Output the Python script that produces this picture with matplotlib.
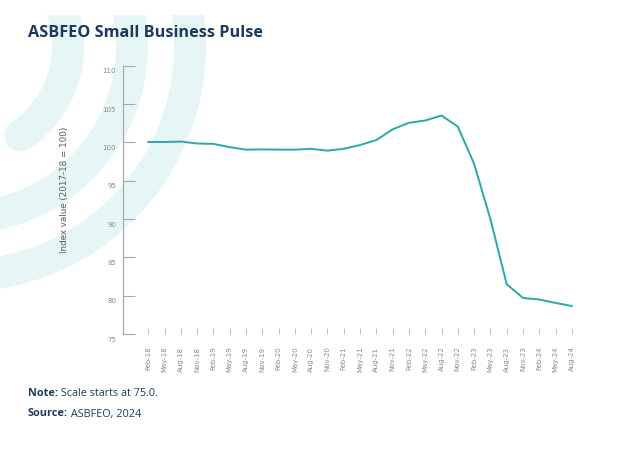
import numpy as np
import matplotlib
matplotlib.use("Agg")
import matplotlib.pyplot as plt
from matplotlib.patches import Rectangle
from matplotlib.transforms import ScaledTranslation

# ---------------- data ----------------
quarters = ["Feb-18", "May-18", "Aug-18", "Nov-18",
            "Feb-19", "May-19", "Aug-19", "Nov-19",
            "Feb-20", "May-20", "Aug-20", "Nov-20",
            "Feb-21", "May-21", "Aug-21", "Nov-21",
            "Feb-22", "May-22", "Aug-22", "Nov-22",
            "Feb-23", "May-23", "Aug-23", "Nov-23",
            "Feb-24", "May-24", "Aug-24"]
pulse = [100.05, 100.05, 100.1, 99.85, 99.8, 99.37, 99.05, 99.08, 99.05, 99.05,
         99.15, 98.92, 99.16, 99.65, 100.3, 101.7, 102.55, 102.85, 103.5, 102.05,
         97.2, 90.0, 81.5, 79.7, 79.5, 79.05, 78.65]
y_ticks = [75, 80, 85, 90, 95, 100, 105, 110]

NAVY = "#1c3a5e"
TEAL = "#27a9ab"
BAND = "#e6f5f6"

W, H = 630, 450
fig = plt.figure(figsize=(W / 100, H / 100), dpi=100)

# ---------------- decorative background arcs (pixel coords) ----------------
bg = fig.add_axes([0, 0, 1, 1])
bg.set_xlim(0, W)
bg.set_ylim(H, 0)
bg.axis("off")
clip = Rectangle((0, 15), W, H, transform=bg.transData, visible=False)
bg.add_patch(clip)
cx, cy = -40, 46
lw_pt = 32 * 72 / 100
for r, t_end in [(108, -56), (172, -100), (230, -100)]:
    th = np.radians(np.linspace(40, t_end, 300))
    xs = cx + r * np.cos(th)
    ys = cy - r * np.sin(th)
    ln, = bg.plot(xs, ys, color=BAND, lw=lw_pt, solid_capstyle="round")
    ln.set_clip_path(clip)

# ---------------- main axes ----------------
left_px, right_px = 123, 580
top_px, bot_px = 65.7, 334
ax = fig.add_axes([left_px / W, 1 - bot_px / H,
                   (right_px - left_px) / W, (bot_px - top_px) / H])
ax.patch.set_alpha(0)
x = np.arange(len(quarters))
ax.plot(x, pulse, color=TEAL, lw=1.4, solid_joinstyle="round")

ax.set_xlim(-1.55, len(quarters) - 0.5)
ax.set_ylim(75, 110)
ax.set_yticks(y_ticks)
ax.set_yticklabels([str(v) for v in y_ticks])
ax.set_xticks(x)
ax.set_xticklabels(quarters, rotation=90)

for s in ["top", "right", "bottom"]:
    ax.spines[s].set_visible(False)
ax.spines["left"].set_color("#a8a8a8")
ax.spines["left"].set_linewidth(0.9)

ax.tick_params(axis="y", direction="in", length=8.5, width=0.8, color="#a8a8a8",
               labelsize=5, labelcolor="#8a8a8a", pad=5)
ax.tick_params(axis="x", direction="in", length=4.5, width=0.6, color="#b0b0b0",
               labelsize=5, labelcolor="#8a8a8a", pad=9)
off = ScaledTranslation(0, -0.05, fig.dpi_scale_trans)
for lab in ax.get_yticklabels():
    lab.set_transform(lab.get_transform() + off)

fig.text(65 / W, 1 - 190 / H, "Index value (2017-18 = 100)", rotation=90,
         ha="center", va="center", fontsize=6.3, color="#5a5a5a")

# ---------------- titles / notes ----------------
fig.text(28 / W, 1 - 33 / H, "ASBFEO Small Business Pulse", ha="left",
         va="center", fontsize=11.7, fontweight="bold", color=NAVY,
         family="Open Sans")

fig.canvas.draw()
r = fig.canvas.get_renderer()
for ypx, bold, rest in [(393, "Note:", " Scale starts at 75.0."),
                        (414, "Source:", " ASBFEO, 2024")]:
    t1 = fig.text(28 / W, 1 - ypx / H, bold, ha="left", va="center",
                  fontsize=7.8, fontweight="bold", color=NAVY, family="Open Sans")
    bb = t1.get_window_extent(renderer=r)
    fig.text(bb.x1 / W, 1 - ypx / H, rest, ha="left", va="center",
             fontsize=7.8, color=NAVY, family="Open Sans")

fig.savefig("out.png", dpi=100)
